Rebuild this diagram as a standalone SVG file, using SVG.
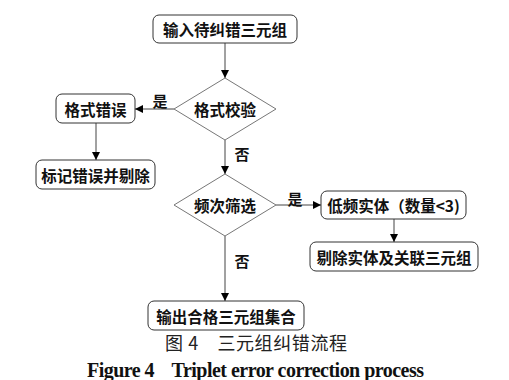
<svg xmlns="http://www.w3.org/2000/svg" width="509" height="380" viewBox="0 0 509 380">
<defs>
<marker id="ah" viewBox="0 0 10 10" refX="10" refY="5" markerWidth="8" markerHeight="8" markerUnits="userSpaceOnUse" orient="auto">
<path d="M0,0 L10,5 L0,10 z" fill="#000"/>
</marker>
</defs>
<style>
.box{fill:#fff;stroke:#333;stroke-width:1}
.dia{fill:#fff;stroke:#777;stroke-width:1}
.t{font-family:"Noto Sans CJK SC","Noto Sans",sans-serif;font-weight:bold;font-size:15.5px;fill:#111;text-anchor:middle;dominant-baseline:central}
.lbl{font-family:"Noto Sans CJK SC","Noto Sans",sans-serif;font-weight:bold;font-size:15px;fill:#111;text-anchor:middle;dominant-baseline:central}
.e{fill:none;stroke:#444;stroke-width:1}
.cap{font-family:"Noto Sans CJK SC",sans-serif;font-size:18px;fill:#222}
.cap2{font-family:"Liberation Serif",serif;font-weight:bold;font-size:20px;fill:#111}
</style>
<rect width="509" height="380" fill="#fff"/>
<g id="connectors">
<line class="e" x1="225" y1="43" x2="225" y2="78" marker-end="url(#ah)"/>
<line class="e" x1="174" y1="109" x2="135" y2="109" marker-end="url(#ah)"/>
<line class="e" x1="96" y1="123" x2="96" y2="160" marker-end="url(#ah)"/>
<line class="e" x1="225" y1="140" x2="225" y2="174" marker-end="url(#ah)"/>
<line class="e" x1="276" y1="205" x2="321" y2="205" marker-end="url(#ah)"/>
<line class="e" x1="394" y1="219" x2="394" y2="242" marker-end="url(#ah)"/>
<line class="e" x1="225" y1="236" x2="225" y2="301" marker-end="url(#ah)"/>
<text class="lbl" x="160" y="100">是</text>
<text class="lbl" x="242" y="153">否</text>
<text class="lbl" x="295" y="198">是</text>
<text class="lbl" x="242" y="260">否</text>
</g>
<g id="n1"><rect class="box" x="153" y="15" width="144" height="28" rx="6"/><text class="t" x="225" y="29">输入待纠错三元组</text></g>
<g id="n2"><polygon class="dia" points="225,78 276,109 225,140 174,109"/><text class="t" x="225" y="109">格式校验</text></g>
<g id="n3"><rect class="box" x="56" y="94" width="79" height="29" rx="6"/><text class="t" x="95.5" y="108.5">格式错误</text></g>
<g id="n4"><rect class="box" x="36" y="160" width="119" height="29" rx="6"/><text class="t" x="95.5" y="174.5">标记错误并剔除</text></g>
<g id="n5"><polygon class="dia" points="225,174 276,205 225,236 174,205"/><text class="t" x="225" y="205">频次筛选</text></g>
<g id="n6"><rect class="box" x="321" y="191" width="145" height="28" rx="6"/><text class="t" x="393.5" y="205">低频实体（数量&lt;3)</text></g>
<g id="n7"><rect class="box" x="310" y="242" width="168" height="29" rx="6"/><text class="t" x="394" y="256.5">剔除实体及关联三元组</text></g>
<g id="n8"><rect class="box" x="148" y="301" width="156" height="29" rx="6"/><text class="t" x="226" y="315.5">输出合格三元组集合</text></g>
<text class="cap" x="165" y="350" textLength="182" lengthAdjust="spacing">图 4　三元组纠错流程</text>
<text class="cap2" x="87" y="377" textLength="337" lengthAdjust="spacing" xml:space="preserve">Figure 4    Triplet error correction process</text>
</svg>
